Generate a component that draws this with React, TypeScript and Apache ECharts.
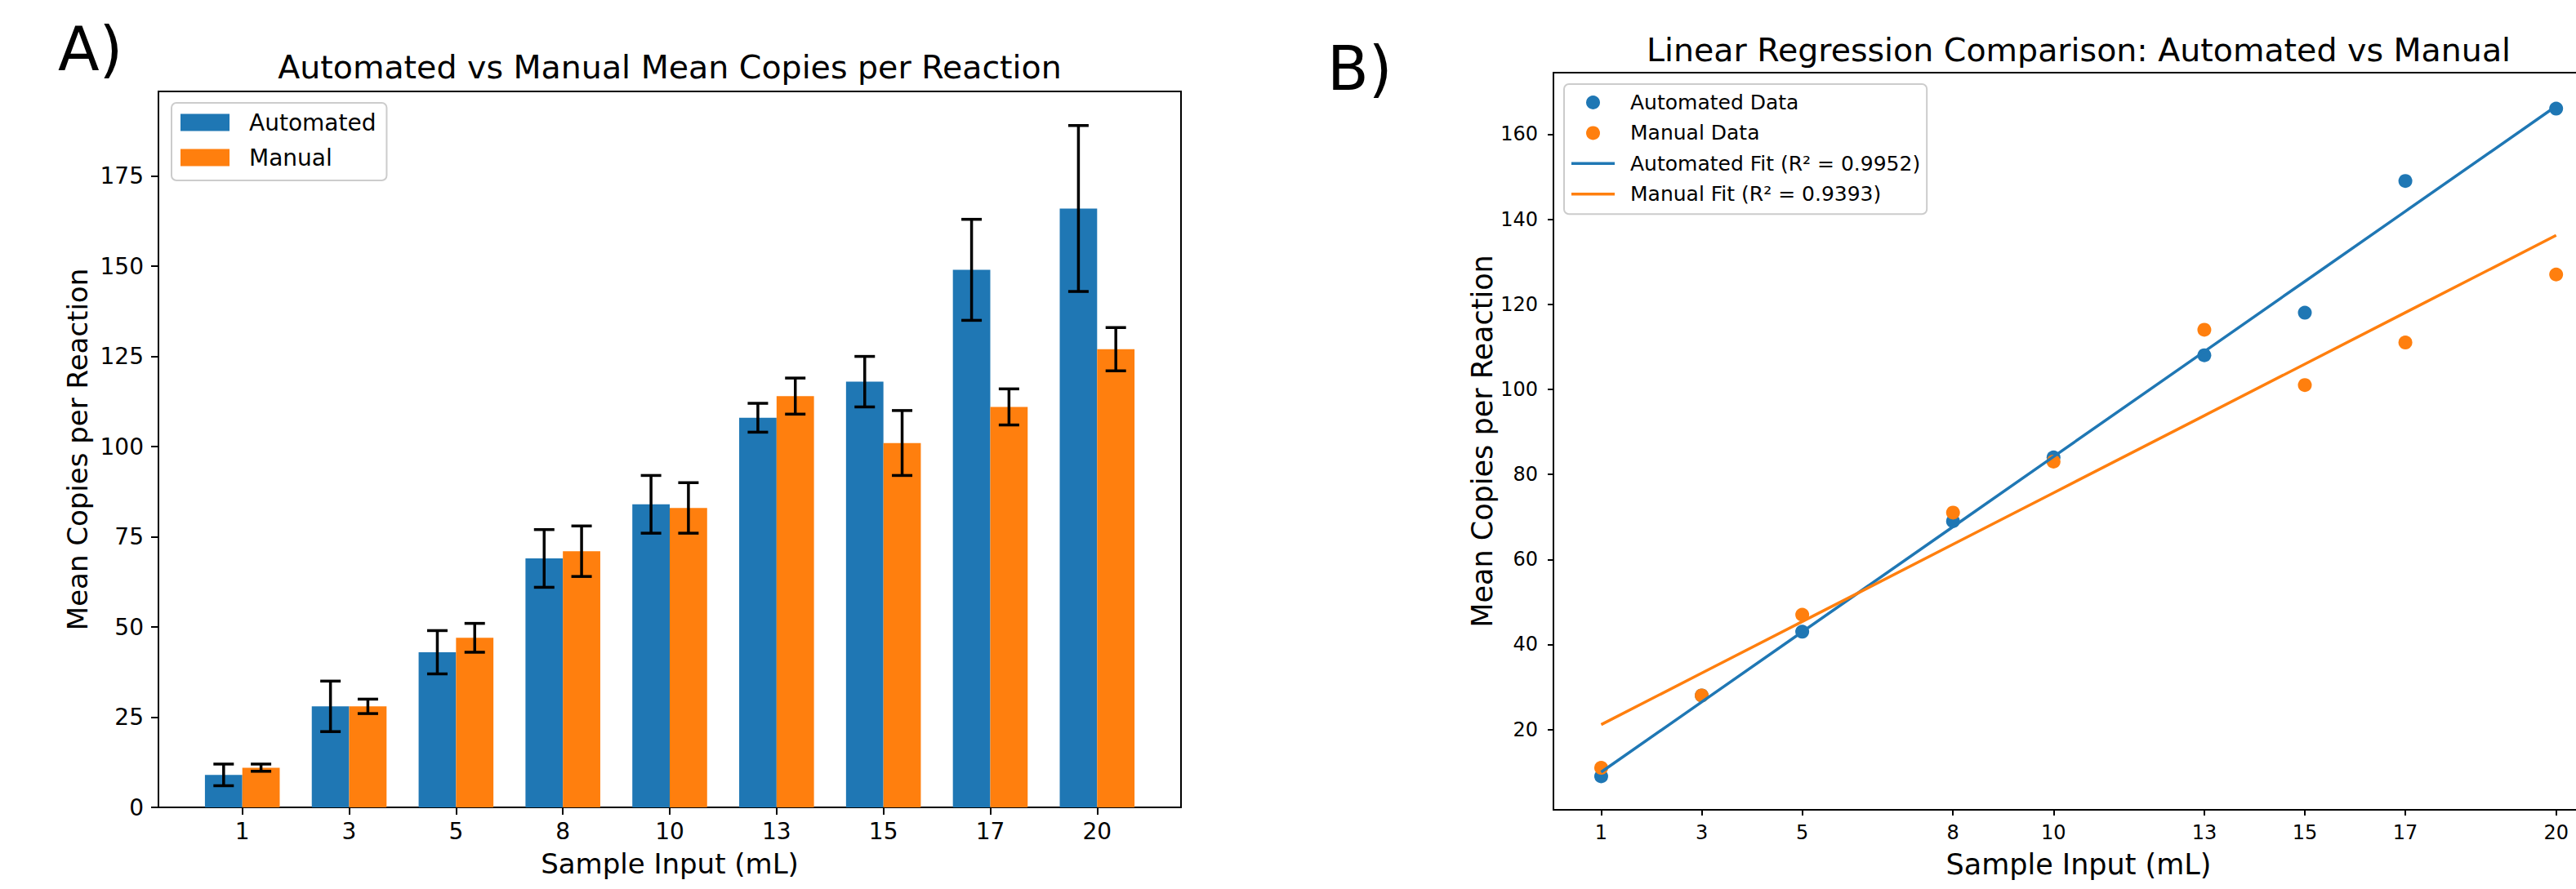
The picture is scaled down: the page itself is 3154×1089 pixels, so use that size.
import React, { useEffect, useRef } from 'react';
import * as echarts from 'echarts';

// ---- data ----
const categories = ['1', '3', '5', '8', '10', '13', '15', '17', '20'];
const sampleInput = [1, 3, 5, 8, 10, 13, 15, 17, 20];
const automatedMean = [9, 28, 43, 69, 84, 108, 118, 149, 166];
const automatedErr = [3, 7, 6, 8, 8, 4, 7, 14, 23];
const manualMean = [11, 28, 47, 71, 83, 114, 101, 111, 127];
const manualErr = [1, 2, 4, 7, 7, 5, 9, 5, 6];
const barYTicks = [0, 25, 50, 75, 100, 125, 150, 175];
const regYTicks = [20, 40, 60, 80, 100, 120, 140, 160];
const legendA = ['Automated', 'Manual'];
const legendB = ['Automated Data', 'Manual Data', 'Automated Fit (R² = 0.9952)', 'Manual Fit (R² = 0.9393)'];

const BLUE = '#1f77b4';
const ORANGE = '#ff7f0e';
const FONT = 'DejaVu Sans';
const BAR_W = 0.35;
const LINE_ICON = 'path://M0 0H53V3.5H0Z';

function linFit(xs: number[], ys: number[]) {
  const n = xs.length;
  const mx = xs.reduce((s, v) => s + v, 0) / n;
  const my = ys.reduce((s, v) => s + v, 0) / n;
  let sxy = 0, sxx = 0;
  for (let i = 0; i < n; i++) {
    sxy += (xs[i] - mx) * (ys[i] - my);
    sxx += (xs[i] - mx) * (xs[i] - mx);
  }
  const b = sxy / sxx;
  return { a: my - b * mx, b };
}

const barSeries = (name: string, values: number[], offset: number, color: string) => ({
  type: 'custom',
  name,
  xAxisIndex: 0,
  yAxisIndex: 0,
  itemStyle: { color },
  encode: { x: 0, y: 1 },
  data: values.map((v, i) => [i + offset, v]),
  renderItem: (params: any, api: any) => {
    const x = api.value(0);
    const y = api.value(1);
    const top = api.coord([x, y]);
    const base = api.coord([x, 0]);
    const w = api.size([BAR_W, 0])[0];
    return {
      type: 'rect',
      shape: { x: top[0] - w / 2, y: top[1], width: w, height: base[1] - top[1] },
      style: { fill: color },
    };
  },
});

const errSeries = (values: number[], errs: number[], offset: number) => ({
  type: 'custom',
  xAxisIndex: 0,
  yAxisIndex: 0,
  z: 3,
  encode: { x: 0, y: [1, 2] },
  data: values.map((v, i) => [i + offset, v - errs[i], v + errs[i]]),
  renderItem: (params: any, api: any) => {
    const x = api.value(0);
    const lo = api.coord([x, api.value(1)]);
    const hi = api.coord([x, api.value(2)]);
    const cap = 12.5;
    const st = { stroke: '#000', lineWidth: 3.5 };
    return {
      type: 'group',
      children: [
        { type: 'line', shape: { x1: lo[0], y1: lo[1], x2: hi[0], y2: hi[1] }, style: st },
        { type: 'line', shape: { x1: lo[0] - cap, y1: lo[1], x2: lo[0] + cap, y2: lo[1] }, style: st },
        { type: 'line', shape: { x1: hi[0] - cap, y1: hi[1], x2: hi[0] + cap, y2: hi[1] }, style: st },
      ],
    };
  },
});

export default function App() {
  const ref = useRef<HTMLDivElement>(null);

  useEffect(() => {
    if (!ref.current) return;
    const chart = echarts.init(ref.current, undefined, { renderer: 'svg' });

    const fitA = linFit(sampleInput, automatedMean);
    const fitM = linFit(sampleInput, manualMean);
    const idx = categories.map((_, i) => i);

    const axisLine = { show: true, onZero: false, lineStyle: { color: '#000', width: 2 } };

    const option: any = {
      animation: false,
      backgroundColor: '#fff',
      textStyle: { fontFamily: FONT },
      grid: [
        { left: 194, top: 112, width: 1252, height: 877, show: true, borderColor: '#000', borderWidth: 2, backgroundColor: 'transparent' },
        { left: 1902, top: 89, width: 1252, height: 903, show: false },
      ],
      xAxis: [
        {
          gridIndex: 0,
          type: 'value',
          min: -0.785,
          max: 8.785,
          axisLine,
          splitLine: { show: false },
          axisTick: { show: true, customValues: idx, length: 9, lineStyle: { color: '#000', width: 2 } },
          axisLabel: {
            customValues: idx,
            formatter: (v: number) => categories[Math.round(v)],
            fontSize: 28, color: '#000', margin: 15, fontFamily: FONT,
          },
          name: 'Sample Input (mL)',
          nameLocation: 'middle',
          nameGap: 52,
          nameTextStyle: { fontSize: 34, color: '#000', fontFamily: FONT },
        },
        {
          gridIndex: 1,
          type: 'value',
          min: 0.05,
          max: 20.395,
          axisLine,
          splitLine: { show: false },
          axisTick: { show: true, customValues: sampleInput, length: 7, lineStyle: { color: '#000', width: 2 } },
          axisLabel: { customValues: sampleInput, fontSize: 24, color: '#000', margin: 16, fontFamily: FONT },
          name: 'Sample Input (mL)',
          nameLocation: 'middle',
          nameGap: 49,
          nameTextStyle: { fontSize: 35, color: '#000', fontFamily: FONT, padding: [0, 0, 0, 34] },
        },
        {
          gridIndex: 1,
          type: 'value',
          position: 'top',
          min: 0.05,
          max: 20.395,
          axisLine,
          splitLine: { show: false },
          axisTick: { show: false },
          axisLabel: { show: false },
        },
      ],
      yAxis: [
        {
          gridIndex: 0,
          type: 'value',
          min: 0,
          max: 198.45,
          axisLine,
          splitLine: { show: false },
          axisTick: { show: true, customValues: barYTicks, length: 9, lineStyle: { color: '#000', width: 2 } },
          axisLabel: { customValues: barYTicks, fontSize: 28, color: '#000', margin: 18, fontFamily: FONT },
          name: 'Mean Copies per Reaction',
          nameLocation: 'middle',
          nameGap: 82,
          nameTextStyle: { fontSize: 34, color: '#000', fontFamily: FONT },
        },
        {
          gridIndex: 1,
          type: 'value',
          min: 1.12,
          max: 174.46,
          axisLine,
          splitLine: { show: false },
          axisTick: { show: true, customValues: regYTicks, length: 7, lineStyle: { color: '#000', width: 2 } },
          axisLabel: { customValues: regYTicks, fontSize: 24, color: '#000', margin: 19, fontFamily: FONT },
          name: 'Mean Copies per Reaction',
          nameLocation: 'middle',
          nameGap: 70,
          nameTextStyle: { fontSize: 35, color: '#000', fontFamily: FONT },
        },
      ],
      legend: [
        {
          data: legendA,
          left: 210,
          top: 126,
          orient: 'vertical',
          icon: 'rect',
          itemWidth: 60,
          itemHeight: 21,
          itemGap: 15,
          padding: [10, 13, 14, 11],
          backgroundColor: 'rgba(255,255,255,0.8)',
          borderColor: '#cccccc',
          borderWidth: 2,
          borderRadius: 6,
          selectedMode: false,
          textStyle: { fontSize: 28, lineHeight: 28, color: '#000', fontFamily: FONT, padding: [0, 0, 0, 19] },
        },
        {
          data: [
            { name: legendB[0], icon: 'circle' },
            { name: legendB[1], icon: 'circle' },
            { name: legendB[2], icon: LINE_ICON, itemStyle: { color: BLUE, borderWidth: 0 } },
            { name: legendB[3], icon: LINE_ICON, itemStyle: { color: ORANGE, borderWidth: 0 } },
          ],
          left: 1915,
          top: 103,
          orient: 'vertical',
          itemWidth: 53,
          itemHeight: 17,
          itemGap: 12.4,
          symbolKeepAspect: true,
          padding: [10, 8, 12, 9],
          backgroundColor: 'rgba(255,255,255,0.8)',
          borderColor: '#cccccc',
          borderWidth: 2,
          borderRadius: 6,
          selectedMode: false,
          textStyle: { fontSize: 25, lineHeight: 25, color: '#000', fontFamily: FONT, padding: [0, 0, 0, 14] },
        },
      ],
      graphic: [
        { type: 'text', x: 71, y: 60, style: { text: 'A)', font: `74px "${FONT}"`, fill: '#000', textAlign: 'left', textVerticalAlign: 'middle' } },
        { type: 'text', x: 1625, y: 84, style: { text: 'B)', font: `74px "${FONT}"`, fill: '#000', textAlign: 'left', textVerticalAlign: 'middle' } },
        { type: 'text', x: 820, y: 82, style: { text: 'Automated vs Manual Mean Copies per Reaction', font: `39.5px "${FONT}"`, fill: '#000', textAlign: 'center', textVerticalAlign: 'middle' } },
        { type: 'text', x: 2545, y: 61, style: { text: 'Linear Regression Comparison: Automated vs Manual', font: `39.5px "${FONT}"`, fill: '#000', textAlign: 'center', textVerticalAlign: 'middle' } },
      ],
      series: [
        barSeries(legendA[0], automatedMean, -BAR_W / 2, BLUE),
        errSeries(automatedMean, automatedErr, -BAR_W / 2),
        barSeries(legendA[1], manualMean, BAR_W / 2, ORANGE),
        errSeries(manualMean, manualErr, BAR_W / 2),
        {
          type: 'scatter',
          name: legendB[0],
          xAxisIndex: 1,
          yAxisIndex: 1,
          symbolSize: 17,
          itemStyle: { color: BLUE, opacity: 1 },
          data: sampleInput.map((x, i) => [x, automatedMean[i]]),
        },
        {
          type: 'scatter',
          name: legendB[1],
          xAxisIndex: 1,
          yAxisIndex: 1,
          symbolSize: 17,
          itemStyle: { color: ORANGE, opacity: 1 },
          data: sampleInput.map((x, i) => [x, manualMean[i]]),
        },
        {
          type: 'line',
          name: legendB[2],
          xAxisIndex: 1,
          yAxisIndex: 1,
          showSymbol: false,
          symbol: 'none',
          color: BLUE,
          lineStyle: { color: BLUE, width: 3.5 },
          data: sampleInput.map((x) => [x, fitA.a + fitA.b * x]),
        },
        {
          type: 'line',
          name: legendB[3],
          xAxisIndex: 1,
          yAxisIndex: 1,
          showSymbol: false,
          symbol: 'none',
          color: ORANGE,
          lineStyle: { color: ORANGE, width: 3.5 },
          data: sampleInput.map((x) => [x, fitM.a + fitM.b * x]),
        },
      ],
    };

    chart.setOption(option);
    return () => chart.dispose();
  }, []);

  return (
    <div
      ref={ref}
      style={{ position: 'absolute', left: 0, top: 0, width: 3154, height: 1089, background: '#fff' }}
    />
  );
}
